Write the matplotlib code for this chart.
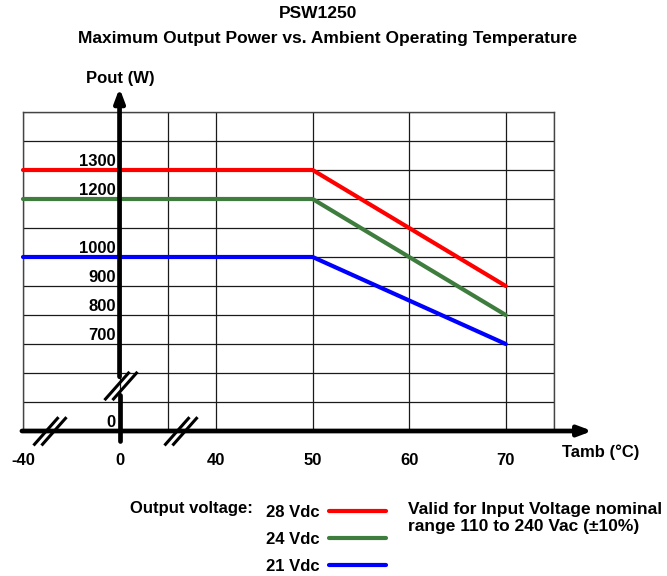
import numpy as np
import matplotlib
matplotlib.use("Agg")
import matplotlib.pyplot as plt
from matplotlib.transforms import blended_transform_factory, IdentityTransform
from matplotlib.lines import Line2D

# data
temps = [-40, 50, 70]
p_28v = [1300, 1300, 900]
p_24v = [1200, 1200, 800]
p_21v = [1000, 1000, 700]
series_labels = ["28 Vdc", "24 Vdc", "21 Vdc"]
series_colors = ["#ff0000", "#3e7d3e", "#0000ff"]

x_ticks = [-40, 0, 40, 50, 60, 70]
y_ticks = [0, 700, 800, 900, 1000, 1200, 1300]

# broken axes: piecewise linear scales
x_brk = [-40, 0, 40, 50, 75]
x_pos = [-1, 0, 1, 2, 4.5]
y_brk = [0, 700, 1500]
y_pos = [0, 3, 11]


def fx(v):
    return np.interp(v, x_brk, x_pos)


def ix(p):
    return np.interp(p, x_pos, x_brk)


def fy(v):
    return np.interp(v, y_brk, y_pos)


def iy(p):
    return np.interp(p, y_pos, y_brk)


FONT = ["Liberation Sans", "DejaVu Sans"]
plt.rcParams['font.family'] = FONT
plt.rcParams['font.weight'] = 'bold'

fig = plt.figure(figsize=(6.67, 5.76), dpi=100)
ax = fig.add_axes([23 / 667, 1 - 431 / 576, 531 / 667, 319 / 576])
ax.set_xscale('function', functions=(fx, ix))
ax.set_yscale('function', functions=(fy, iy))
ax.set_xlim(-40, 75)
ax.set_ylim(0, 1500)

# grid
ax.set_xticks(ix([-1, 0, 0.5, 1, 2, 3, 4, 4.5]))
ax.set_yticks(iy(np.arange(12)))
ax.tick_params(length=0, labelbottom=False, labelleft=False)
ax.grid(True, color='#1a1a1a', lw=0.9)
for s in ax.spines.values():
    s.set_color('#444444')
    s.set_linewidth(1.0)

lines = []
for vals, lab, col in zip([p_28v, p_24v, p_21v], series_labels, series_colors):
    ln, = ax.plot(temps, vals, color=col, lw=3.0, label=lab,
                  solid_capstyle='round', zorder=4, clip_on=False)
    lines.append(ln)

# thick axes with arrows
bx = blended_transform_factory(ax.transData, ax.transAxes)
by = blended_transform_factory(ax.transAxes, ax.transData)
ax.plot([0, 0], [-0.031, 0.113], color='k', lw=3.4, transform=bx,
        solid_capstyle='round', clip_on=False, zorder=5)
ax.annotate('', xy=(0, 1.075), xytext=(0, 0.17), xycoords=bx, textcoords=bx,
            arrowprops=dict(arrowstyle='-|>,head_length=0.8,head_width=0.3',
                            lw=3.4, color='k', shrinkA=0, shrinkB=0),
            annotation_clip=False, zorder=5)
ax.annotate('', xy=(1.072, 0), xytext=(-0.002, 0), xycoords=by, textcoords=by,
            arrowprops=dict(arrowstyle='-|>,head_length=0.8,head_width=0.3',
                            lw=3.4, color='k', shrinkA=0, shrinkB=0,
                            capstyle='round'),
            annotation_clip=False, zorder=5)


def break_mark(fxa, fya):
    cx, cy = ax.transAxes.transform((fxa, fya))
    for off in (-4.0, 4.0):
        ax.add_line(Line2D([cx + off - 11.5, cx + off + 11.5],
                           [cy - 13, cy + 13], transform=IdentityTransform(),
                           color='k', lw=2.2, clip_on=False, zorder=6))


break_mark((50 - 23) / 531, -0.001)
break_mark((181 - 23) / 531, -0.001)
break_mark((121 - 23) / 531, (431 - 386) / 319)

fs = 12
for v in y_ticks:
    ax.annotate(str(v), xy=(0, v), xytext=(-4, 1), textcoords='offset pixels',
                ha='right', va='bottom', fontsize=fs, fontweight='bold',
                annotation_clip=False)
for v in x_ticks:
    ax.annotate(str(v), xy=(v, 0), xytext=(0, -22), textcoords='offset pixels',
                ha='center', va='top', fontsize=fs, fontweight='bold',
                annotation_clip=False)

fig.text(120 / 667, 1 - 78 / 576, 'Pout (W)', ha='center', va='center',
         fontsize=fs, fontweight='bold')
fig.text(562 / 667, 1 - 452 / 576, 'Tamb (°C)', ha='left', va='center',
         fontsize=fs, fontweight='bold')

# titles
fig.text(318 / 667, 1 - 14 / 576, 'PSW1250', ha='center', va='center',
         fontsize=12.5, fontweight='bold')
fig.text(328 / 667, 1 - 38 / 576,
         'Maximum Output Power vs. Ambient Operating Temperature',
         ha='center', va='center', fontsize=12.5, fontweight='bold')

# legend
fig.text(253 / 667, 1 - 508 / 576, 'Output voltage:', ha='right', va='center',
         fontsize=fs, fontweight='bold')
fig.legend(handles=lines, labels=series_labels, loc='upper left',
           bbox_to_anchor=(266 / 667, 1 - 505 / 576), frameon=False,
           markerfirst=False, handlelength=3.45, handletextpad=0.55,
           labelspacing=0.72, borderaxespad=0, borderpad=0,
           prop=dict(family=FONT, weight='bold', size=fs))
fig.text(408 / 667, 1 - 518 / 576, 'Valid for Input Voltage nominal\nrange 110 to 240 Vac (±10%)',
         ha='left', va='center', fontsize=12.5, fontweight='bold', linespacing=1.12)

fig.savefig('out.png', dpi=100)
